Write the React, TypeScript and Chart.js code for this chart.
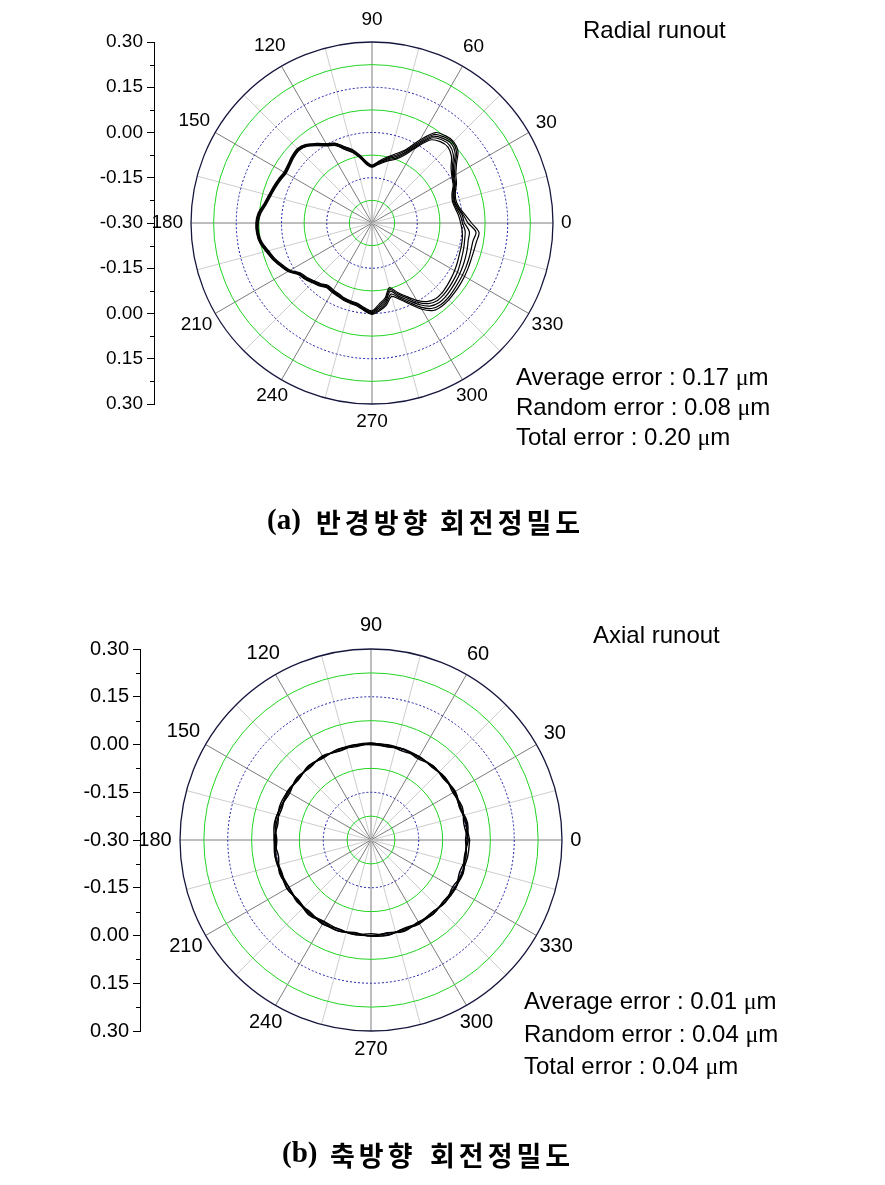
import React, { useEffect, useRef } from 'react';
import { Chart, registerables } from 'chart.js';

Chart.register(...registerables);

// ---------- categories (angles, degrees) ----------
const TOP_ANGLES = [
  0, 5, 10, 15, 20, 25, 30, 35, 40, 45, 50, 55,
  60, 65, 70, 75, 80, 85, 90, 95, 100, 105, 110, 115,
  120, 125, 130, 135, 140, 145, 150, 155, 160, 165, 170, 175,
  180, 185, 190, 195, 200, 205, 210, 215, 220, 225, 230, 235,
  240, 245, 250, 255, 260, 265, 270, 275, 280, 285, 290, 295,
  300, 305, 310, 315, 320, 325, 330, 335, 340, 345, 350, 355,
];

// ---------- radial runout traces (um) ----------
const RADIAL_TRACE_1 = [
  0.006, 0.000, -0.012, -0.018, -0.012, 0.003, 0.012, 0.030, 0.060, 0.072, 0.066, 0.051,
  0.000, -0.042, -0.066, -0.078, -0.090, -0.102, -0.111, -0.100, -0.080, -0.052, -0.034, -0.012,
  0.000, 0.018, 0.036, 0.045, 0.042, 0.036, 0.033, 0.039, 0.045, 0.051, 0.060, 0.075,
  0.081, 0.081, 0.075, 0.060, 0.048, 0.033, 0.018, -0.006, -0.014, -0.024, -0.032, -0.042,
  -0.039, -0.036, -0.030, -0.027, -0.024, -0.012, -0.003, -0.018, -0.036, -0.066, -0.042, -0.018,
  0.012, 0.036, 0.045, 0.045, 0.042, 0.039, 0.036, 0.033, 0.030, 0.027, 0.024, 0.024,
];
const RADIAL_TRACE_2 = [
  0.030, 0.010, -0.006, -0.012, -0.006, 0.009, 0.021, 0.042, 0.072, 0.082, 0.078, 0.066,
  0.018, -0.030, -0.054, -0.070, -0.084, -0.098, -0.108, -0.096, -0.072, -0.048, -0.030, -0.008,
  0.004, 0.022, 0.040, 0.049, 0.046, 0.040, 0.037, 0.043, 0.049, 0.055, 0.064, 0.079,
  0.085, 0.084, 0.078, 0.064, 0.051, 0.036, 0.022, -0.002, -0.010, -0.020, -0.028, -0.038,
  -0.035, -0.032, -0.027, -0.024, -0.020, -0.008, 0.003, -0.008, -0.024, -0.048, -0.030, -0.004,
  0.030, 0.054, 0.060, 0.060, 0.058, 0.056, 0.054, 0.052, 0.050, 0.050, 0.052, 0.056,
];
const RADIAL_TRACE_3 = [
  0.018, 0.004, -0.010, -0.016, -0.010, 0.005, 0.016, 0.036, 0.066, 0.078, 0.072, 0.058,
  0.008, -0.036, -0.060, -0.074, -0.088, -0.100, -0.110, -0.100, -0.076, -0.052, -0.034, -0.010,
  0.002, 0.020, 0.038, 0.047, 0.044, 0.038, 0.034, 0.041, 0.047, 0.053, 0.062, 0.077,
  0.083, 0.083, 0.076, 0.062, 0.050, 0.035, 0.020, -0.004, -0.012, -0.022, -0.030, -0.040,
  -0.037, -0.034, -0.029, -0.026, -0.022, -0.010, 0.000, -0.012, -0.030, -0.056, -0.036, -0.010,
  0.022, 0.046, 0.054, 0.054, 0.051, 0.048, 0.046, 0.044, 0.042, 0.040, 0.040, 0.046,
];
const RADIAL_TRACE_4 = [
  0.000, -0.006, -0.016, -0.021, -0.015, 0.000, 0.009, 0.025, 0.052, 0.064, 0.060, 0.044,
  -0.008, -0.048, -0.072, -0.082, -0.094, -0.105, -0.113, -0.104, -0.080, -0.057, -0.039, -0.015,
  -0.003, 0.015, 0.034, 0.043, 0.040, 0.034, 0.031, 0.037, 0.043, 0.049, 0.058, 0.072,
  0.079, 0.079, 0.072, 0.057, 0.045, 0.030, 0.015, -0.009, -0.017, -0.027, -0.035, -0.045,
  -0.042, -0.039, -0.033, -0.030, -0.027, -0.015, -0.006, -0.024, -0.042, -0.072, -0.050, -0.026,
  0.004, 0.026, 0.036, 0.036, 0.033, 0.030, 0.027, 0.022, 0.018, 0.015, 0.012, 0.010,
];
const RADIAL_TRACE_5 = [
  -0.006, -0.012, -0.020, -0.024, -0.018, -0.003, 0.006, 0.020, 0.044, 0.056, 0.052, 0.036,
  -0.014, -0.054, -0.076, -0.086, -0.097, -0.107, -0.115, -0.106, -0.083, -0.059, -0.041, -0.017,
  -0.005, 0.013, 0.032, 0.041, 0.038, 0.032, 0.029, 0.035, 0.041, 0.047, 0.056, 0.070,
  0.077, 0.077, 0.070, 0.055, 0.043, 0.028, 0.013, -0.011, -0.019, -0.029, -0.037, -0.047,
  -0.044, -0.041, -0.035, -0.032, -0.029, -0.018, -0.009, -0.030, -0.048, -0.078, -0.056, -0.032,
  -0.004, 0.018, 0.028, 0.028, 0.024, 0.020, 0.016, 0.012, 0.008, 0.006, 0.004, 0.000,
];

const BOTTOM_ANGLES = [
  0, 10, 20, 30, 40, 50, 60, 70, 80, 90, 100, 110,
  120, 130, 140, 150, 160, 170, 180, 190, 200, 210, 220, 230,
  240, 250, 260, 270, 280, 290, 300, 310, 320, 330, 340, 350,
];

// ---------- axial runout traces (um) ----------
const AXIAL_TRACE_1 = [
  0.006, -0.004, 0.005, -0.003, 0.004, -0.002, 0.003, -0.004, 0.002, 0.003, -0.003, 0.004,
  -0.002, 0.005, -0.004, 0.003, 0.006, -0.003, 0.004, -0.005, 0.006, -0.002, 0.003, -0.004,
  0.005, -0.003, 0.002, -0.006, 0.003, -0.002, 0.004, -0.003, 0.005, -0.004, 0.006, -0.002,
];
const AXIAL_TRACE_2 = [
  -0.003, 0.005, -0.004, 0.006, -0.002, 0.004, -0.005, 0.003, -0.003, 0.005, 0.002, -0.004,
  0.005, -0.003, 0.004, -0.005, 0.002, 0.006, -0.004, 0.003, -0.002, 0.005, -0.004, 0.006,
  -0.003, 0.004, -0.005, 0.002, -0.004, 0.005, -0.003, 0.004, -0.002, 0.006, -0.004, 0.003,
];
const AXIAL_TRACE_3 = [
  0.010, 0.002, 0.000, 0.004, 0.001, 0.003, 0.000, 0.002, 0.004, 0.000, 0.001, -0.002,
  0.003, 0.000, 0.001, -0.001, 0.002, 0.008, 0.004, 0.006, 0.001, -0.003, 0.000, 0.002,
  -0.005, -0.002, 0.001, 0.000, -0.003, 0.002, 0.000, -0.002, 0.004, 0.006, 0.003, 0.008,
];
const AXIAL_TRACE_4 = [
  0.002, 0.008, -0.002, 0.001, 0.005, 0.000, 0.002, 0.004, -0.002, 0.000, 0.004, 0.002,
  0.000, 0.003, -0.002, 0.004, -0.003, 0.002, 0.000, 0.005, 0.003, 0.004, -0.003, 0.000,
  0.002, 0.004, -0.003, 0.002, 0.004, -0.004, 0.001, 0.003, -0.001, 0.002, 0.008, 0.000,
];

// ---------- axes ----------
const RADIAL_MIN = -0.3;
const RADIAL_MAX = 0.3;
const RING_VALUES = [-0.225, -0.15, -0.075, 0, 0.075, 0.15, 0.225, 0.3];
const RING_KINDS = ['green', 'blue', 'green', 'blue', 'green', 'blue', 'green', 'outer'];
const SPOKE_ANGLES = [0, 15, 30, 45, 60, 75, 90, 105, 120, 135, 150, 165, 180, 195, 210, 225, 240, 255, 270, 285, 300, 315, 330, 345];
const ANGLE_LABEL_ANGLES = [0, 30, 60, 90, 120, 150, 180, 210, 240, 270, 300, 330];
const ANGLE_LABELS = ['0', '30', '60', '90', '120', '150', '180', '210', '240', '270', '300', '330'];
const Y_TICK_LABELS = ['0.30', '0.15', '0.00', '-0.15', '-0.30', '-0.15', '0.00', '0.15', '0.30'];
const Y_MINOR_TICKS = [-0.525, -0.375, -0.225, -0.075, 0.075, 0.225, 0.375, 0.525];

const FONT = '"Liberation Sans", Arial, sans-serif';
const DEG = Math.PI / 180;

function toXY(values: number[], angles: number[]) {
  const pts = values.map((v, i) => {
    const r = v - RADIAL_MIN;
    return { x: r * Math.cos(angles[i] * DEG), y: r * Math.sin(angles[i] * DEG) };
  });
  pts.push({ ...pts[0] });
  return pts;
}

type Spec = {
  traces: number[][];
  angles: number[];
  top: number;
  height: number;
  padding: { left: number; right: number; top: number; bottom: number };
  xHalf: number;
  fontSize: number;
  tension: number;
  lineWidth: number;
};

const TOP_SPEC: Spec = {
  traces: [RADIAL_TRACE_1, RADIAL_TRACE_2, RADIAL_TRACE_3, RADIAL_TRACE_4, RADIAL_TRACE_5],
  angles: TOP_ANGLES,
  top: 0,
  height: 480,
  padding: { left: 94, right: 295, top: 42, bottom: 76 },
  xHalf: 0.7227,
  fontSize: 19,
  tension: 0.3,
  lineWidth: 1.2,
};

const BOTTOM_SPEC: Spec = {
  traces: [AXIAL_TRACE_1, AXIAL_TRACE_2, AXIAL_TRACE_3, AXIAL_TRACE_4],
  angles: BOTTOM_ANGLES,
  top: 480,
  height: 705,
  padding: { left: 80, right: 283, top: 169, bottom: 154 },
  xHalf: 0.7257,
  fontSize: 20,
  tension: 0.4,
  lineWidth: 1.4,
};

function makePolarPlugin(fontSize: number) {
  return {
    id: 'polarGrid',
    beforeDatasetsDraw(chart: any) {
      const { ctx } = chart;
      const x = chart.scales.x;
      const y = chart.scales.y;
      const cx = x.getPixelForValue(0);
      const cy = y.getPixelForValue(0);
      const rp = (v: number) => x.getPixelForValue(v - RADIAL_MIN) - cx;
      const R = rp(RADIAL_MAX);
      ctx.save();
      SPOKE_ANGLES.forEach((a) => {
        const major = a % 30 === 0;
        ctx.strokeStyle = major ? '#7c7c7c' : '#cdcdcd';
        ctx.lineWidth = 1;
        ctx.setLineDash([]);
        ctx.beginPath();
        ctx.moveTo(cx, cy);
        ctx.lineTo(cx + R * Math.cos(a * DEG), cy - R * Math.sin(a * DEG));
        ctx.stroke();
      });
      RING_VALUES.forEach((v, i) => {
        const kind = RING_KINDS[i];
        if (kind === 'green') {
          ctx.strokeStyle = '#22d422';
          ctx.lineWidth = 1;
          ctx.setLineDash([]);
        } else if (kind === 'blue') {
          ctx.strokeStyle = '#1c1ca8';
          ctx.lineWidth = 1;
          ctx.setLineDash([2, 2]);
        } else {
          ctx.strokeStyle = '#16163e';
          ctx.lineWidth = 1.3;
          ctx.setLineDash([]);
        }
        ctx.beginPath();
        ctx.arc(cx, cy, rp(v), 0, Math.PI * 2);
        ctx.stroke();
      });
      ctx.restore();
    },
    afterDraw(chart: any) {
      const { ctx } = chart;
      const x = chart.scales.x;
      const y = chart.scales.y;
      const cx = x.getPixelForValue(0);
      const cy = y.getPixelForValue(0);
      const R = x.getPixelForValue(RADIAL_MAX - RADIAL_MIN) - cx;
      const s = fontSize / 18;
      ctx.save();
      ctx.font = `${fontSize}px ${FONT}`;
      ctx.fillStyle = '#000';
      ctx.textAlign = 'center';
      ctx.textBaseline = 'middle';
      ANGLE_LABEL_ANGLES.forEach((a, i) => {
        const text = ANGLE_LABELS[i];
        const w = ctx.measureText(text).width;
        const c = Math.cos(a * DEG);
        const sn = Math.sin(a * DEG);
        const ext = Math.sqrt((c * w / 2) ** 2 + (sn * 11.5 * s) ** 2);
        const d = R + 7.5 * s + ext + 2.5 * s * sn;
        ctx.fillText(text, cx + d * c, cy - d * sn);
      });
      // minor ticks on the left axis
      const ax = chart.chartArea.left;
      ctx.strokeStyle = '#000';
      ctx.lineWidth = 1;
      Y_MINOR_TICKS.forEach((v) => {
        const py = Math.round(y.getPixelForValue(v)) + 0.5;
        ctx.beginPath();
        ctx.moveTo(ax - 4, py);
        ctx.lineTo(ax, py);
        ctx.stroke();
      });
      ctx.restore();
    },
  };
}

function PolarPlot({ spec }: { spec: Spec }) {
  const ref = useRef<HTMLCanvasElement | null>(null);
  useEffect(() => {
    if (!ref.current) return;
    const chart = new Chart(ref.current, {
      type: 'scatter',
      data: {
        datasets: spec.traces.map((t) => ({
          data: toXY(t, spec.angles),
          showLine: true,
          borderColor: '#000',
          borderWidth: spec.lineWidth,
          pointRadius: 0,
          pointHoverRadius: 0,
          tension: spec.tension,
          fill: false,
        })),
      },
      options: {
        responsive: false,
        animation: false,
        events: [],
        layout: { padding: spec.padding },
        plugins: { legend: { display: false }, tooltip: { enabled: false }, title: { display: false } },
        scales: {
          x: { type: 'linear', min: -spec.xHalf, max: spec.xHalf, display: false },
          y: {
            type: 'linear',
            position: 'left',
            min: -0.6,
            max: 0.6,
            afterFit: (scale: any) => {
              scale.width = 60;
            },
            ticks: {
              stepSize: 0.15,
              autoSkip: false,
              color: '#000',
              padding: 4,
              font: { family: FONT, size: spec.fontSize },
              callback: (_v: any, i: number) => Y_TICK_LABELS[i],
            },
            grid: { drawOnChartArea: false, drawTicks: true, tickLength: 7, color: '#000', lineWidth: 1 },
            border: { display: true, color: '#000', width: 1 },
          },
        },
      } as any,
      plugins: [makePolarPlugin(spec.fontSize)],
    });
    return () => chart.destroy();
  }, [spec]);
  return (
    <canvas
      ref={ref}
      width={885}
      height={spec.height}
      style={{ position: 'absolute', left: 0, top: spec.top, width: 885, height: spec.height }}
    />
  );
}

const mu = <span style={{ fontFamily: '"Liberation Serif", serif' }}>μ</span>;

export default function App() {
  const textBase: React.CSSProperties = {
    position: 'absolute',
    fontFamily: FONT,
    fontSize: 24,
    color: '#000',
    whiteSpace: 'nowrap',
  };
  const korean: React.CSSProperties = {
    position: 'absolute',
    fontFamily: '"Noto Sans CJK KR", sans-serif',
    fontWeight: 700,
    fontSize: 27,
    lineHeight: '27px',
    letterSpacing: '4px',
    color: '#000',
    whiteSpace: 'nowrap',
  };
  const paren: React.CSSProperties = {
    position: 'absolute',
    fontFamily: '"Liberation Serif", serif',
    fontWeight: 700,
    fontSize: 29,
    lineHeight: '29px',
    color: '#000',
    whiteSpace: 'nowrap',
  };
  return (
    <div style={{ position: 'fixed', left: 0, top: 0, width: 885, height: 1185, background: '#fff', overflow: 'hidden' }}>
      <PolarPlot spec={TOP_SPEC} />
      <PolarPlot spec={BOTTOM_SPEC} />

      <div style={{ ...textBase, left: 583, top: 18, lineHeight: '24px' }}>Radial runout</div>
      <div style={{ ...textBase, left: 516, top: 362, lineHeight: '30px' }}>
        <div>Average error : 0.17 {mu}m</div>
        <div>Random error : 0.08 {mu}m</div>
        <div>Total error : 0.20 {mu}m</div>
      </div>

      <div style={{ ...textBase, left: 593, top: 623, lineHeight: '24px' }}>Axial runout</div>
      <div style={{ ...textBase, left: 524, top: 985, lineHeight: '32.5px' }}>
        <div>Average error : 0.01 {mu}m</div>
        <div>Random error : 0.04 {mu}m</div>
        <div>Total error : 0.04 {mu}m</div>
      </div>

      <div style={{ ...paren, left: 267, top: 505 }}>(a)</div>
      <div style={{ ...korean, left: 316, top: 507.5 }}>반경방향</div>
      <div style={{ ...korean, left: 440, top: 507.5 }}>회전정밀도</div>

      <div style={{ ...paren, left: 282, top: 1138 }}>(b)</div>
      <div style={{ ...korean, left: 330, top: 1140.5 }}>축방향</div>
      <div style={{ ...korean, left: 430, top: 1140.5 }}>회전정밀도</div>
    </div>
  );
}
